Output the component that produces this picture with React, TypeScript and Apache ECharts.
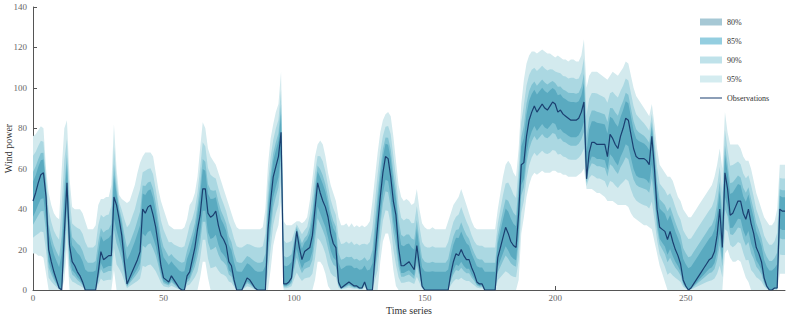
import React, { useEffect, useRef } from 'react';
import * as echarts from 'echarts';

// Observed wind power, time steps 0..288
const observations = [
  44, 48, 53, 57, 58, 46, 20, 14, 9, 5,
  1, 0, 28, 53, 22, 14, 12, 9, 7, 4,
  0, 0, 0, 0, 0, 9, 19, 15, 16, 17,
  17, 46, 42, 35, 27, 14, 3, 6, 9, 12,
  15, 19, 40, 38, 41, 42, 37, 31, 22, 12,
  6, 5, 4, 7, 5, 3, 1, 0, 0, 7,
  9, 15, 21, 30, 37, 50, 50, 38, 36, 37,
  39, 32, 27, 25, 22, 14, 12, 5, 0, 0,
  0, 3, 6, 5, 3, 1, 0, 0, 0, 0,
  30, 44, 56, 61, 66, 78, 3, 3, 4, 6,
  18, 29, 21, 15, 19, 20, 21, 27, 40, 53,
  48, 44, 41, 36, 28, 23, 21, 4, 1, 2,
  3, 4, 3, 2, 2, 1, 1, 4, 0, 0,
  0, 17, 32, 46, 58, 66, 65, 56, 44, 37,
  21, 12, 12, 13, 14, 12, 10, 22, 12, 2,
  0, 0, 0, 0, 0, 0, 0, 0, 0, 0,
  8, 14, 18, 17, 20, 17, 15, 15, 11, 8,
  4, 3, 3, 0, 0, 0, 0, 0, 16, 21,
  26, 31, 28, 24, 22, 21, 38, 62, 63, 76,
  84, 88, 91, 88, 90, 92, 90, 89, 91, 93,
  92, 88, 89, 87, 86, 85, 84, 84, 84, 85,
  88, 93, 55, 68, 73, 73, 72, 72, 72, 72,
  66, 77, 75, 72, 70, 76, 80, 85, 84, 77,
  70, 66, 65, 65, 65, 64, 62, 76, 60, 40,
  31, 30, 29, 25, 29, 24, 20, 17, 13, 5,
  2, 0, 1, 3, 5, 7, 9, 11, 13, 15,
  16, 19, 27, 40, 21, 58, 50, 37, 38, 41,
  44, 44, 38, 35, 40, 33, 28, 21, 18, 14,
  6, 2, 0, 0, 1, 1, 40, 39, 39,
];

// Upper bound of the 95% prediction interval
const upper95 = [
  76, 77, 79, 81, 80, 60, 48, 42, 38, 36,
  35, 60, 80, 84, 55, 41, 40, 40, 40, 38,
  34, 30, 30, 30, 32, 42, 45, 45, 46, 46,
  52, 82, 60, 47, 45, 44, 43, 44, 48, 52,
  58, 63, 66, 68, 68, 68, 66, 58, 50, 44,
  40, 36, 32, 31, 30, 30, 30, 30, 31, 35,
  42, 44, 48, 56, 70, 83, 80, 70, 66, 64,
  62, 58, 54, 50, 46, 42, 38, 34, 31, 30,
  30, 30, 30, 30, 30, 30, 30, 30, 31, 40,
  62, 75, 82, 88, 92, 108, 34, 32, 32, 32,
  33, 34, 34, 33, 34, 36, 44, 55, 66, 72,
  74, 72, 66, 58, 52, 48, 44, 36, 32, 32,
  33, 31, 33, 31, 32, 31, 32, 31, 32, 34,
  44, 56, 68, 78, 84, 87, 88, 86, 76, 64,
  52, 46, 44, 45, 44, 42, 43, 50, 40, 33,
  31, 30, 30, 31, 30, 30, 30, 30, 30, 34,
  38, 42, 44, 46, 50, 46, 42, 38, 34, 31,
  30, 30, 30, 30, 30, 30, 30, 30, 40, 48,
  56, 62, 64, 62, 58, 56, 70, 92, 104, 112,
  116, 118, 118, 117, 118, 119, 118, 117, 117, 116,
  115, 116, 115, 114, 114, 113, 114, 114, 113, 113,
  116, 124, 100, 106, 108, 108, 108, 107, 106, 105,
  104, 106, 108, 107, 106, 108, 110, 113, 112, 106,
  100, 96, 94, 92, 90, 88, 86, 92, 82, 70,
  62, 60, 58, 56, 56, 54, 50, 46, 44, 40,
  38, 36, 36, 38, 40, 42, 44, 46, 48, 50,
  52, 56, 62, 70, 60, 88, 78, 72, 72, 72,
  72, 70, 66, 64, 64, 60, 54, 48, 44, 40,
  36, 34, 32, 32, 34, 40, 62, 62, 62,
];

// Lower bound of the 95% prediction interval
const lower95 = [
  18, 18, 17, 17, 16, 8, 0, 0, 0, 0,
  0, 0, 5, 20, 0, 0, 0, 0, 0, 0,
  0, 0, 0, 0, 0, 0, 0, 0, 0, 0,
  0, 10, 0, 0, 0, 0, 0, 0, 0, 0,
  0, 0, 0, 0, 0, 0, 0, 0, 0, 0,
  0, 0, 0, 0, 0, 0, 0, 0, 0, 0,
  0, 0, 0, 0, 6, 14, 14, 6, 0, 0,
  0, 0, 0, 0, 0, 0, 0, 0, 0, 0,
  0, 0, 0, 0, 0, 0, 0, 0, 0, 0,
  0, 10, 22, 28, 32, 44, 0, 0, 0, 0,
  0, 0, 0, 0, 0, 0, 0, 0, 5, 14,
  14, 12, 8, 2, 0, 0, 0, 0, 0, 0,
  0, 0, 0, 0, 0, 0, 0, 0, 0, 0,
  0, 0, 0, 14, 24, 28, 28, 22, 10, 2,
  0, 0, 0, 0, 0, 0, 0, 0, 0, 0,
  0, 0, 0, 0, 0, 0, 0, 0, 0, 0,
  0, 0, 0, 0, 0, 0, 0, 0, 0, 0,
  0, 0, 0, 0, 0, 0, 0, 0, 0, 0,
  0, 0, 0, 0, 0, 0, 5, 28, 36, 46,
  52, 56, 58, 57, 58, 59, 58, 58, 58, 59,
  59, 58, 58, 57, 57, 56, 56, 56, 56, 57,
  58, 60, 50, 50, 50, 49, 48, 48, 47, 46,
  44, 44, 44, 43, 42, 42, 42, 42, 41, 38,
  36, 35, 34, 33, 32, 32, 31, 30, 24, 18,
  12, 8, 4, 0, 0, 0, 0, 0, 0, 0,
  0, 0, 0, 0, 0, 0, 0, 0, 0, 0,
  0, 0, 0, 0, 0, 18, 20, 16, 14, 14,
  15, 14, 10, 6, 4, 0, 0, 0, 0, 0,
  0, 0, 0, 0, 0, 0, 8, 8, 8,
];

// Time-step categories 0..288
const timeSteps = observations.map((_, i) => String(i));
// Interval levels, drawn outermost first
const bandLevels = ['95%', '90%', '85%', '80%'];
// Width of each interval relative to the 95% interval
const bandScale = [1, 0.7, 0.45, 0.3];
const bandColors = ['#d3eaee', '#abd8e2', '#80c2d2', '#5aaac0'];
const legendColors: Record<string, string> = {
  '80%': '#a6c8d5',
  '85%': '#94cee0',
  '90%': '#bfe2ea',
  '95%': '#d4ecf0',
};
const legendOrder = ['80%', '85%', '90%', '95%', 'Observations'];
const xTickStep = 50;
const OBS_COLOR = '#1b3f70';
// thin horizontal bar inside a 22x7 box (legend line icon)
const LINE_ICON = 'path://M0,0 L0.01,0 L0.01,0.01 Z M0,2.9 L22,2.9 L22,4.1 L0,4.1 Z M22,7 L21.99,7 L21.99,6.99 Z';

const FONT = '"Liberation Serif", "Times New Roman", serif';

export default function App() {
  const ref = useRef<HTMLDivElement>(null);

  useEffect(() => {
    if (!ref.current) return;
    const chart = echarts.init(ref.current, null, { renderer: 'svg' });

    const series: any[] = [];
    bandLevels.forEach((lvl, k) => {
      const s = bandScale[k];
      const lo = observations.map((o, i) => Math.max(0, o - s * Math.max(0, o - lower95[i])));
      const hi = observations.map((o, i) => o + s * Math.max(0, upper95[i] - o));
      series.push({
        type: 'line',
        name: 'lo' + lvl,
        stack: 'band' + k,
        data: lo,
        symbol: 'none',
        lineStyle: { opacity: 0, width: 0 },
        silent: true,
      });
      series.push({
        type: 'line',
        name: lvl,
        stack: 'band' + k,
        data: hi.map((v, i) => v - lo[i]),
        symbol: 'none',
        lineStyle: { opacity: 0, width: 0 },
        itemStyle: { color: legendColors[lvl] },
        areaStyle: { color: bandColors[k], opacity: 1 },
        silent: true,
      });
    });
    series.push({
      type: 'line',
      name: 'Observations',
      data: observations,
      symbol: 'none',
      lineStyle: { color: OBS_COLOR, width: 1.2 },
      itemStyle: { color: OBS_COLOR },
    });

    const tickAt = (idx: number) => idx % xTickStep === 0;

    chart.setOption({
      animation: false,
      backgroundColor: '#ffffff',
      grid: { left: 33, right: 4, top: 7, bottom: 28, outerBoundsMode: 'none', containLabel: false },
      legend: {
        orient: 'vertical',
        left: 695,
        top: 13,
        z: 20,
        itemWidth: 22,
        itemHeight: 7,
        itemGap: 11,
        textStyle: { fontFamily: FONT, fontSize: 8, color: '#333' },
        data: legendOrder.map((n) =>
          n === 'Observations'
            ? { name: n, icon: LINE_ICON, itemStyle: { color: OBS_COLOR, borderWidth: 0 } }
            : { name: n, icon: 'rect', itemStyle: { color: legendColors[n], borderWidth: 0 } }
        ),
      },
      xAxis: {
        type: 'category',
        data: timeSteps,
        boundaryGap: false,
        name: 'Time series',
        nameLocation: 'middle',
        nameGap: 15,
        nameMoveOverlap: false,
        nameTextStyle: { fontFamily: FONT, fontSize: 10, color: '#333' },
        axisLine: { lineStyle: { color: '#555', width: 1 } },
        axisTick: { inside: true, length: 4, interval: tickAt, lineStyle: { color: '#555' } },
        axisLabel: { interval: tickAt, fontFamily: FONT, fontSize: 9, color: '#666', margin: 3 },
        splitLine: { show: false },
      },
      yAxis: {
        type: 'value',
        min: 0,
        max: 140,
        interval: 20,
        name: 'Wind power',
        nameLocation: 'middle',
        nameGap: 20,
        nameMoveOverlap: false,
        nameTextStyle: { fontFamily: FONT, fontSize: 10, color: '#333' },
        axisLine: { show: true, lineStyle: { color: '#555', width: 1 } },
        axisTick: { show: true, inside: true, length: 4, lineStyle: { color: '#555' } },
        axisLabel: { fontFamily: FONT, fontSize: 9, color: '#666', margin: 6 },
        splitLine: { show: false },
      },
      series,
    });

    return () => chart.dispose();
  }, []);

  return <div ref={ref} style={{ width: 789, height: 318, position: 'absolute', left: 0, top: 0 }} />;
}
